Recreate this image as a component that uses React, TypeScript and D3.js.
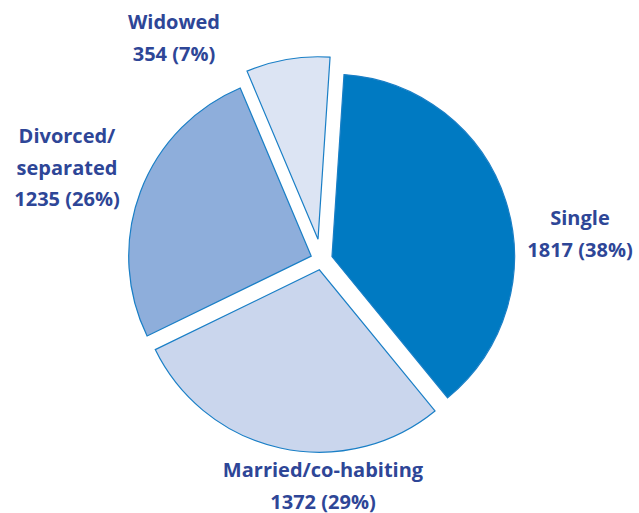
import React, { useEffect, useRef } from 'react'
import * as d3 from 'd3'

// marital status counts
const categories = ['Single', 'Married/co-habiting', 'Divorced/separated', 'Widowed']
const counts = [1817, 1372, 1235, 354]
const percents = [38, 29, 26, 7]
// label lines as printed (the divorced one wraps after the slash)
const labelLines = [
  ['Single'],
  ['Married/co-habiting'],
  ['Divorced/', 'separated'],
  ['Widowed'],
]

const FILLS = ['#007ac2', '#cad6ed', '#8eaedb', '#dce4f3']
const STROKE = '#1a7fc6'
const TEXT = '#2e4697'

// how far each slice is pulled out from the centre
const EXPLODE = [11, 10, 11, 21]
// label anchor (centre x, first baseline) per slice
const LABEL_AT = [
  [580, 225],
  [323, 477],
  [67, 143],
  [174, 29],
]

export default function App() {
  const svgRef = useRef<SVGSVGElement>(null)

  useEffect(() => {
    const svg = d3.select(svgRef.current)
    svg.selectAll('*').remove()

    const width = 639
    const cx = 321.5
    const cy = 260
    const radius = 182.5
    const start = 0.066

    const pie = d3.pie<number>()
      .sort(null)
      .value(d => d)
      .startAngle(start)
      .endAngle(start + 2 * Math.PI)

    const arc = d3.arc<d3.PieArcDatum<number>>()
      .innerRadius(0)
      .outerRadius(radius)

    const slices = pie(counts)

    const g = svg.append('g').attr('transform', `translate(${cx},${cy})`)

    g.selectAll('path')
      .data(slices)
      .join('path')
      .attr('transform', (d, i) => {
        const mid = (d.startAngle + d.endAngle) / 2
        return `translate(${Math.sin(mid) * EXPLODE[i]},${-Math.cos(mid) * EXPLODE[i]})`
      })
      .attr('d', arc)
      .attr('fill', (d, i) => FILLS[i])
      .attr('stroke', STROKE)
      .attr('stroke-width', 1.2)
      .attr('stroke-linejoin', 'miter')

    // labels
    const labels = svg.append('g')
      .attr('font-family', '"Open Sans", "Noto Sans", sans-serif')
      .attr('font-weight', 700)
      .attr('font-size', 20)
      .attr('fill', TEXT)
      .attr('text-anchor', 'middle')

    categories.forEach((c, i) => {
      const [lx, ly] = LABEL_AT[i]
      const lines = [...labelLines[i], `${counts[i]} (${percents[i]}%)`]
      const t = labels.append('text').attr('x', lx).attr('y', ly)
      lines.forEach((line, j) => {
        t.append('tspan')
          .attr('x', lx)
          .attr('dy', j === 0 ? 0 : 31.5)
          .text(line)
      })
    })

    svg.attr('width', width)
  }, [])

  return (
    <svg
      ref={svgRef}
      width={639}
      height={513}
      style={{ position: 'absolute', left: 0, top: 0, display: 'block', background: '#fff' }}
    />
  )
}
